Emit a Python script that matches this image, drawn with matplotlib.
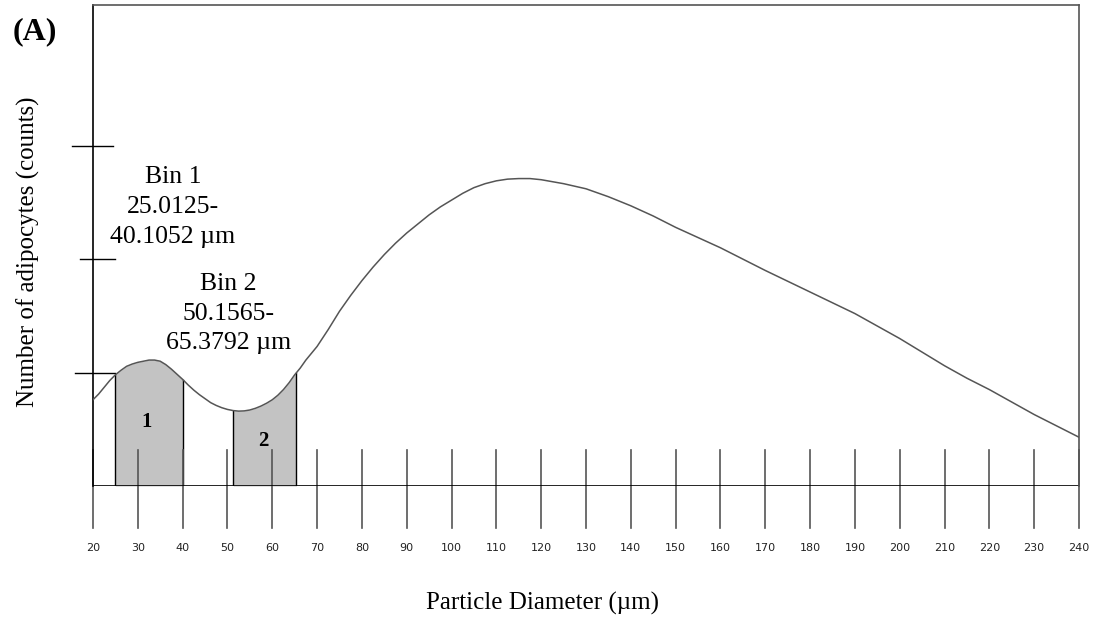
import numpy as np
import matplotlib.pyplot as plt

# ------------------------------------------
# data
# ------------------------------------------
diameter = [20, 21.25, 22.5, 23.75, 25, 26.25, 27.5, 28.75, 30, 31.25, 32.5,
            33.75, 35, 36.25, 37.5, 38.75, 40, 41.25, 42.5, 43.75, 45, 46.25,
            47.5, 48.75, 50, 51.25, 52.5, 53.75, 55, 56.25, 57.5, 58.75, 60,
            61.25, 62.5, 63.75, 65, 66.25, 67.5, 68.75, 70, 72.5, 75, 77.5,
            80, 82.5, 85, 87.5, 90, 92.5, 95, 97.5, 100, 102.5, 105, 107.5,
            110, 112.5, 115, 117.5, 120, 125, 130, 135, 140, 145, 150, 155,
            160, 165, 170, 175, 180, 185, 190, 195, 200, 205, 210, 215, 220,
            225, 230, 235, 240]
counts = [0.76, 0.81, 0.87, 0.93, 0.98, 1.02, 1.055, 1.075, 1.09, 1.10, 1.11,
          1.11, 1.10, 1.07, 1.03, 0.985, 0.94, 0.89, 0.845, 0.805, 0.77, 0.735,
          0.71, 0.69, 0.675, 0.665, 0.66, 0.662, 0.67, 0.685, 0.705, 0.73,
          0.76, 0.80, 0.85, 0.91, 0.98, 1.04, 1.11, 1.17, 1.23, 1.38, 1.54,
          1.68, 1.81, 1.93, 2.04, 2.14, 2.23, 2.31, 2.39, 2.46, 2.52, 2.58,
          2.63, 2.665, 2.69, 2.705, 2.71, 2.71, 2.70, 2.665, 2.62, 2.55,
          2.47, 2.38, 2.28, 2.19, 2.10, 2.00, 1.90, 1.805, 1.71, 1.615, 1.52,
          1.41, 1.30, 1.18, 1.06, 0.95, 0.85, 0.74, 0.63, 0.53, 0.43]

bin_edges = [(25.0, 40.1), (51.3, 65.4)]
bin_names = ["1", "2"]
bin_labels = ["Bin 1\n25.0125-\n40.1052 \u00b5m", "Bin 2\n50.1565-\n65.3792 \u00b5m"]

x_ticks = list(range(20, 250, 10))
y_ticks = [1, 2, 3]

SERIF = ["Liberation Serif", "DejaVu Serif"]
GREY = "#555555"

fig = plt.figure(figsize=(10.99, 6.25), dpi=100)
ax = fig.add_axes([0.0846, 0.2224, 0.8972, 0.7696])
ax.set_xlim(20, 240)
ax.set_ylim(0, 4.24)

x = np.array(diameter)
y = np.array(counts)

# shaded bins
for (a, b) in bin_edges:
    inside = (x > a) & (x < b)
    xs = np.concatenate([[a], x[inside], [b]])
    ys = np.interp(xs, x, y)
    ax.fill_between(xs, 0, ys, color="#c3c3c3", lw=0, zorder=1)
    ax.plot([a, a], [0, ys[0]], color="black", lw=1, zorder=2)
    ax.plot([b, b], [0, ys[-1]], color="black", lw=1, zorder=2)

ax.plot(x, y, color=GREY, lw=1.1, zorder=3)

# x ticks crossing the axis
for t in x_ticks:
    ax.plot([t, t], [-0.37, 0.32], color=GREY, lw=1.2, clip_on=False, zorder=2)
    ax.text(t, -0.55, str(t), ha="center", va="center", fontsize=8,
            color="#222222", family="DejaVu Sans")

# y ticks crossing the left spine
ax.plot([16.0, 25.0], [1, 1], color="black", lw=1, clip_on=False)
ax.plot([17.0, 25.0], [2, 2], color="black", lw=1, clip_on=False)
ax.plot([15.3, 24.5], [3, 3], color="black", lw=1, clip_on=False)

ax.axhline(0, color="black", lw=1.2, zorder=2)

ax.set_xticks([])
ax.set_yticks([])
ax.spines["bottom"].set_visible(False)
ax.spines["left"].set_color("black")
ax.spines["top"].set_color(GREY)
ax.spines["right"].set_color(GREY)
for s in ax.spines.values():
    s.set_linewidth(1.2)

# bin descriptions
ax.text(37.8, 2.46, bin_labels[0], ha="center", va="center", fontsize=18.5,
        family=SERIF, linespacing=1.45)
ax.text(50.2, 1.52, bin_labels[1], ha="center", va="center", fontsize=18.5,
        family=SERIF, linespacing=1.45)
ax.text(32.0, 0.56, bin_names[0], ha="center", va="center", fontsize=15,
        fontweight="bold", family=SERIF)
ax.text(58.1, 0.40, bin_names[1], ha="center", va="center", fontsize=15,
        fontweight="bold", family=SERIF)

fig.text(0.032, 0.949, "(A)", ha="center", va="center", fontsize=23,
         fontweight="bold", family=SERIF)
fig.text(0.026, 0.597, "Number of adipocytes (counts)", rotation=90,
         ha="center", va="center", fontsize=18, family=SERIF)
fig.text(0.494, 0.034, "Particle Diameter (\u00b5m)", ha="center",
         va="center", fontsize=18, family=SERIF)

fig.savefig("out.png", dpi=100)
